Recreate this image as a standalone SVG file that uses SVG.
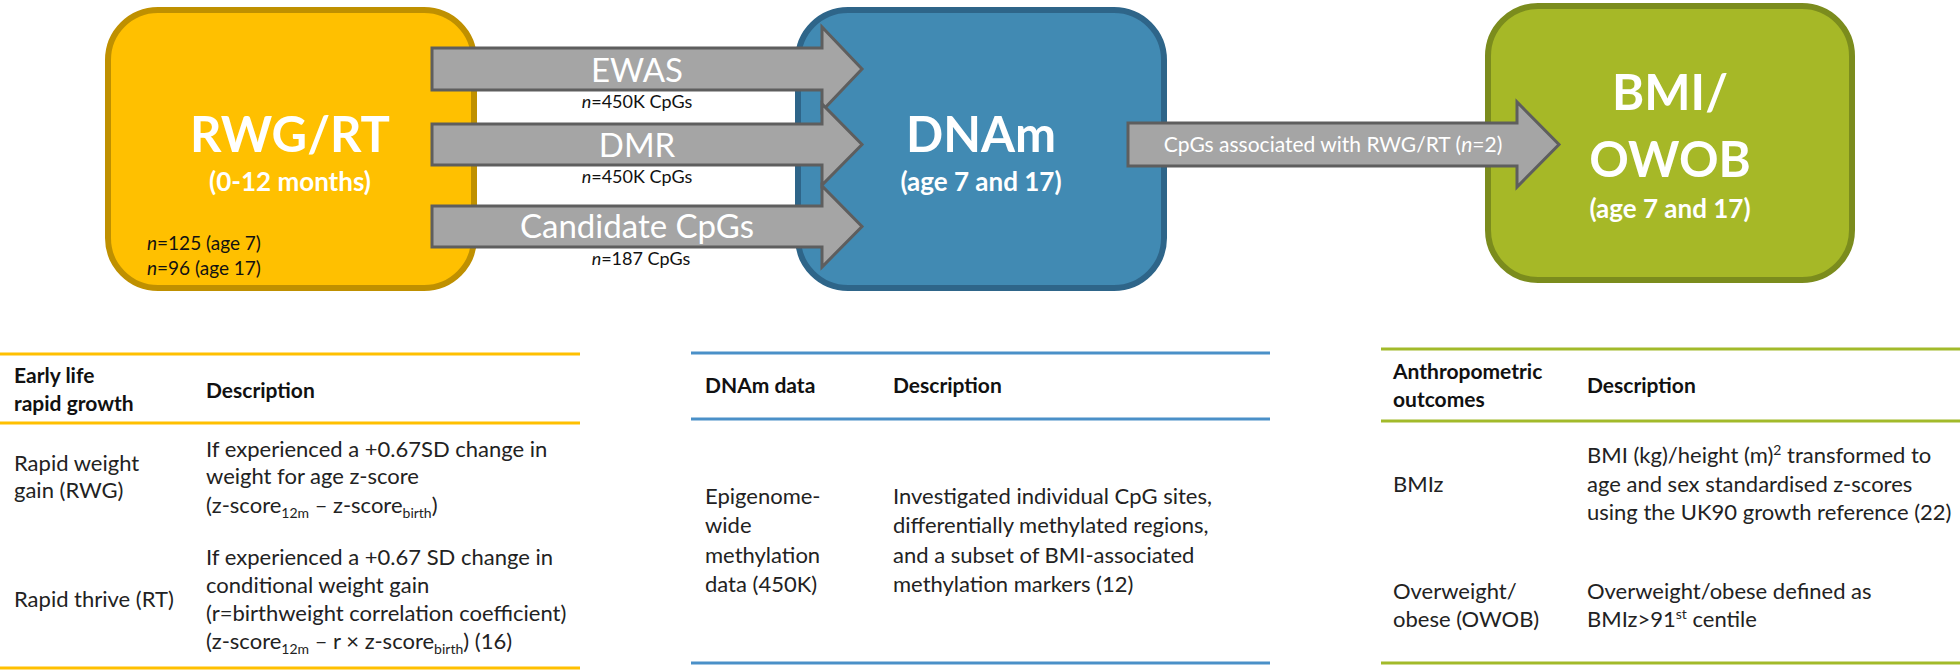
<svg xmlns="http://www.w3.org/2000/svg" width="1960" height="671" viewBox="0 0 1960 671">
<style>
text{font-family:Lato,"Open Sans","Liberation Sans",sans-serif;}
.big{font-size:49px;font-weight:bold;fill:#fff;text-anchor:middle;}
.sub{font-size:26px;font-weight:bold;fill:#fff;text-anchor:middle;}
.arr{fill:#A5A5A5;stroke:#5E5E5E;stroke-width:3;stroke-linejoin:miter;}
.al{font-size:33px;fill:#fff;text-anchor:middle;}
.nl{font-size:18px;fill:#111;text-anchor:middle;}
.t{font-size:22px;fill:#222;}
.th{font-size:21px;fill:#111;font-weight:bold;}
.ly{stroke:#FFC000;stroke-width:3;}
.lb{stroke:#4A90C8;stroke-width:3;}
.lg{stroke:#A2BA2A;stroke-width:3;}
</style>
<g id="node-rwg">
<rect x="108" y="10" width="366" height="278" rx="50" fill="#FFC000" stroke="#BF9000" stroke-width="6"/>
<text class="big" x="290" y="152">RWG/RT</text>
<text class="sub" x="290" y="191">(0-12 months)</text>
<text x="147" y="250" font-size="19" fill="#111"><tspan font-style="italic">n</tspan>=125 (age 7)</text>
<text x="147" y="275" font-size="19" fill="#111"><tspan font-style="italic">n</tspan>=96 (age 17)</text>
</g>
<g id="node-dnam">
<rect x="798" y="10" width="366" height="278" rx="50" fill="#418AB3" stroke="#2E6589" stroke-width="6"/>
<text class="big" x="981" y="152">DNAm</text>
<text class="sub" x="981" y="191">(age 7 and 17)</text>
</g>
<g id="node-bmi">
<rect x="1488" y="6" width="364" height="274" rx="50" fill="#A6B827" stroke="#7B8C1D" stroke-width="6"/>
<text class="big" x="1670" y="110">BMI/</text>
<text class="big" x="1670" y="177">OWOB</text>
<text class="sub" x="1670" y="218">(age 7 and 17)</text>
</g>
<g id="connectors">
<path class="arr" d="M432,48 H822 V27 L862,69 L822,111 V90 H432 Z"/>
<path class="arr" d="M432,124 H822 V104 L862,144.5 L822,185 V165 H432 Z"/>
<path class="arr" d="M432,206 H822 V186 L862,226.5 L822,267 V247 H432 Z"/>
<path class="arr" d="M1128,123 H1517 V102 L1559,144.5 L1517,187 V166 H1128 Z"/>
<text class="al" x="637" y="82">EWAS</text>
<text class="al" x="637" y="157">DMR</text>
<text class="al" x="637" y="238">Candidate CpGs</text>
<text class="nl" x="637" y="108"><tspan font-style="italic">n</tspan>=450K CpGs</text>
<text class="nl" x="637" y="183"><tspan font-style="italic">n</tspan>=450K CpGs</text>
<text class="nl" x="641" y="265"><tspan font-style="italic">n</tspan>=187 CpGs</text>
<text x="1333" y="152" font-size="21" fill="#fff" text-anchor="middle">CpGs associated with RWG/RT (<tspan font-style="italic">n</tspan>=2)</text>
</g>
<g id="table-growth">
<line class="ly" x1="0" y1="354" x2="580" y2="354"/>
<line class="ly" x1="0" y1="423" x2="580" y2="423"/>
<line class="ly" x1="0" y1="668" x2="580" y2="668"/>
<text class="th" x="14" y="383">Early life</text>
<text class="th" x="14" y="411">rapid growth</text>
<text class="th" x="206" y="398">Description</text>
<text class="t" x="14" y="471">Rapid weight</text>
<text class="t" x="14" y="498">gain (RWG)</text>
<text class="t" x="206" y="457">If experienced a +0.67SD change in</text>
<text class="t" x="206" y="484">weight for age z-score</text>
<text class="t" x="206" y="513">(z-score<tspan font-size="14" dy="5">12m</tspan><tspan dy="-5"> –  z-score</tspan><tspan font-size="14" dy="5">birth</tspan><tspan dy="-5">)</tspan></text>
<text class="t" x="14" y="607">Rapid thrive (RT)</text>
<text class="t" x="206" y="565">If experienced a +0.67 SD change in</text>
<text class="t" x="206" y="593">conditional weight gain</text>
<text class="t" x="206" y="621">(r=birthweight correlation coefficient)</text>
<text class="t" x="206" y="649">(z-score<tspan font-size="14" dy="5">12m</tspan><tspan dy="-5"> – r × z-score</tspan><tspan font-size="14" dy="5">birth</tspan><tspan dy="-5">) (16)</tspan></text>
</g>
<g id="table-dnam">
<line class="lb" x1="691" y1="353" x2="1270" y2="353"/>
<line class="lb" x1="691" y1="419" x2="1270" y2="419"/>
<line class="lb" x1="691" y1="663" x2="1270" y2="663"/>
<text class="th" x="705" y="393">DNAm data</text>
<text class="th" x="893" y="393">Description</text>
<text class="t" x="705" y="504">Epigenome-</text>
<text class="t" x="705" y="533">wide</text>
<text class="t" x="705" y="563">methylation</text>
<text class="t" x="705" y="592">data (450K)</text>
<text class="t" x="893" y="504">Investigated individual CpG sites,</text>
<text class="t" x="893" y="533">differentially methylated regions,</text>
<text class="t" x="893" y="563">and a subset of BMI-associated</text>
<text class="t" x="893" y="592">methylation markers (12)</text>
</g>
<g id="table-anthro">
<line class="lg" x1="1381" y1="349" x2="1960" y2="349"/>
<line class="lg" x1="1381" y1="421" x2="1960" y2="421"/>
<line class="lg" x1="1381" y1="663" x2="1960" y2="663"/>
<text class="th" x="1393" y="379">Anthropometric</text>
<text class="th" x="1393" y="407">outcomes</text>
<text class="th" x="1587" y="393">Description</text>
<text class="t" x="1393" y="492">BMIz</text>
<text class="t" x="1587" y="463">BMI (kg)/height (m)<tspan font-size="14" dy="-8">2</tspan><tspan dy="8"> transformed to</tspan></text>
<text class="t" x="1587" y="492">age and sex standardised z-scores</text>
<text class="t" x="1587" y="520">using the UK90 growth reference (22)</text>
<text class="t" x="1393" y="599">Overweight/</text>
<text class="t" x="1393" y="627">obese (OWOB)</text>
<text class="t" x="1587" y="599">Overweight/obese defined as</text>
<text class="t" x="1587" y="627">BMIz&gt;91<tspan font-size="14" dy="-8">st</tspan><tspan dy="8"> centile</tspan></text>
</g>
</svg>
